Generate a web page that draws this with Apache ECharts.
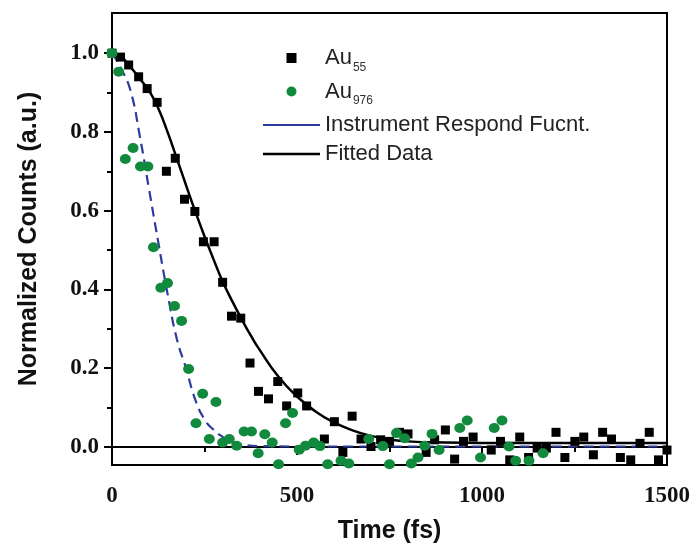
<!DOCTYPE html>
<html><head><meta charset="utf-8">
<script src="https://cdn.jsdelivr.net/npm/echarts@6/dist/echarts.min.js"></script>
<style>html,body{margin:0;padding:0;background:#fff}#c{width:695px;height:550px}</style>
</head><body><div id="c"></div>
<script>
// Au55 (black squares)
const au55X = [0,23,45,72,95,122,147,171,196,224,247,276,299,323,348,373,396,423,448,472,502,526,574,601,624,649,673,700,726,750,777,800,849,872,901,926,950,976,1025,1050,1075,1102,1126,1149,1174,1200,1224,1251,1275,1301,1326,1350,1374,1402,1427,1452,1477,1500];
const au55Y = [1.0,0.99,0.97,0.94,0.91,0.875,0.70,0.733,0.629,0.598,0.521,0.521,0.418,0.332,0.327,0.213,0.141,0.122,0.166,0.104,0.137,0.104,0.02,0.064,-0.014,0.078,0.02,0.001,0.018,0.014,0.037,0.033,-0.014,0.018,0.043,-0.031,0.014,0.025,-0.008,0.014,-0.033,0.025,-0.027,-0.003,-0.003,0.037,-0.027,0.014,0.025,-0.02,0.037,0.02,-0.027,-0.033,0.009,0.037,-0.033,-0.008];
// Au976 (green dots)
const au976X = [0,18,36,57,77,97,112,132,150,169,188,207,227,245,263,281,299,317,337,357,377,395,413,433,450,469,488,506,523,545,562,583,619,640,694,732,750,769,791,809,827,845,865,884,940,960,996,1033,1054,1073,1091,1127,1165];
const au976Y = [1.0,0.953,0.731,0.759,0.712,0.712,0.507,0.404,0.416,0.358,0.32,0.198,0.06,0.135,0.02,0.114,0.011,0.02,0.003,0.039,0.039,-0.016,0.032,0.011,-0.044,0.06,0.086,-0.007,0.003,0.011,0.002,-0.044,-0.035,-0.042,0.02,0.002,-0.044,0.035,0.022,-0.042,-0.027,0.003,0.033,-0.008,0.048,0.067,-0.027,0.048,0.067,0.001,-0.035,-0.035,-0.016];
// Instrument response (blue dashed)
const irfX = [0,25,50,75,100,125,150,175,200,225,250,275,300,325,350,400,500,700,1000,1500];
const irfY = [1.0,0.96,0.905,0.79,0.655,0.52,0.39,0.275,0.20,0.12,0.07,0.043,0.025,0.012,0.006,0.002,0.001,0.001,0.001,0.001];
// Fitted data (black line)
const fitX = [0,25,50,75,100,125,150,175,200,225,250,275,300,325,350,375,400,450,500,550,600,650,700,750,800,900,1000,1200,1500];
const fitY = [1.0,0.99,0.965,0.935,0.905,0.86,0.80,0.733,0.665,0.598,0.535,0.475,0.418,0.37,0.325,0.283,0.245,0.178,0.128,0.09,0.062,0.042,0.028,0.019,0.014,0.011,0.01,0.01,0.01];
// ticks
const xMajor = [0,500,1000,1500];
const xMinor = [250,750,1250];
const yMajor = [0,0.2,0.4,0.6,0.8,1.0];
const yMinor = [0.1,0.3,0.5,0.7,0.9];

const zip = (a,b) => a.map((v,i)=>[v,b[i]]);
const chart = echarts.init(document.getElementById('c'));
const tickFont = {fontFamily:'Liberation Serif', fontWeight:'bold', fontSize:23, color:'#111'};
const titleFont = {fontFamily:'Liberation Sans', fontWeight:'bold', fontSize:25, color:'#111'};
const X_MIN=0, X_MAX=1500, Y_MIN=-0.046, Y_MAX=1.102;
const BLUE='#2b3c9c', GREEN='#128a3e';
chart.setOption({
  animation:false,
  backgroundColor:'#fff',
  grid:{left:112, right:28, top:13, bottom:85, show:true, borderColor:'#000', borderWidth:2, backgroundColor:'transparent'},
  legend:{
    orient:'vertical', left:263, top:47, itemWidth:57, itemHeight:10, itemGap:7,
    padding:0,
    textStyle:{fontFamily:'Liberation Sans', fontSize:22, color:'#222',
      rich:{s:{fontFamily:'Liberation Sans', fontSize:12, color:'#333', padding:[19,0,0,1]}}},
    formatter:function(n){ if(n==='Au55') return 'Au{s|55}'; if(n==='Au976') return 'Au{s|976}'; return n; },
    data:[
      {name:'Au55', icon:'path://M0,0L10,0L10,10L0,10Z'},
      {name:'Au976', icon:'circle'},
      {name:'Instrument Respond Fucnt.', icon:'path://M0,0L57,0L57,2L0,2Z', itemStyle:{color:BLUE}},
      {name:'Fitted Data', icon:'path://M0,0L57,0L57,2.4L0,2.4Z', itemStyle:{color:'#000'}}
    ]
  },
  xAxis:[{
    type:'value', min:X_MIN, max:X_MAX, position:'bottom',
    name:'Time (fs)', nameLocation:'middle', nameGap:54, nameTextStyle:titleFont,
    axisLine:{show:true, lineStyle:{color:'#000', width:2}},
    axisTick:{show:true, inside:false, length:8, lineStyle:{color:'#000', width:2}, customValues:xMajor},
    axisLabel:Object.assign({margin:20, customValues:xMajor, formatter:v=>String(v)}, tickFont),
    splitLine:{show:false}
  },{
    type:'value', min:X_MIN, max:X_MAX, position:'bottom',
    axisLine:{show:false}, axisLabel:{show:false}, splitLine:{show:false},
    axisTick:{show:true, inside:false, length:5, lineStyle:{color:'#000', width:2}, customValues:xMinor}
  }],
  yAxis:[{
    type:'value', min:Y_MIN, max:Y_MAX, position:'left',
    name:'Normalized Counts (a.u.)', nameLocation:'middle', nameGap:70, nameRotate:90, nameTextStyle:titleFont,
    axisLine:{show:true, lineStyle:{color:'#000', width:2}},
    axisTick:{show:true, inside:false, length:8, lineStyle:{color:'#000', width:2}, customValues:yMajor},
    axisLabel:Object.assign({margin:13, customValues:yMajor, formatter:v=>v.toFixed(1)}, tickFont),
    splitLine:{show:false}
  },{
    type:'value', min:Y_MIN, max:Y_MAX, position:'left',
    axisLine:{show:false}, axisLabel:{show:false}, splitLine:{show:false},
    axisTick:{show:true, inside:false, length:5, lineStyle:{color:'#000', width:2}, customValues:yMinor}
  }],
  series:[
    {name:'Instrument Respond Fucnt.', type:'line', data:zip(irfX,irfY), smooth:true,
     showSymbol:false, symbol:'none', itemStyle:{color:BLUE}, lineStyle:{color:BLUE, width:2.2, type:[10,6]}, z:2},
    {name:'Fitted Data', type:'line', data:zip(fitX,fitY), smooth:true,
     showSymbol:false, symbol:'none', itemStyle:{color:'#000'}, lineStyle:{color:'#000', width:2.5}, z:2},
    {name:'Au55', type:'scatter', data:zip(au55X,au55Y), symbol:'rect', symbolSize:9,
     itemStyle:{color:'#000', opacity:1}, z:3},
    {name:'Au976', type:'scatter', data:zip(au976X,au976Y), symbol:'circle', symbolSize:[11,10],
     itemStyle:{color:GREEN, opacity:1}, z:3}
  ]
});
</script></body></html>
